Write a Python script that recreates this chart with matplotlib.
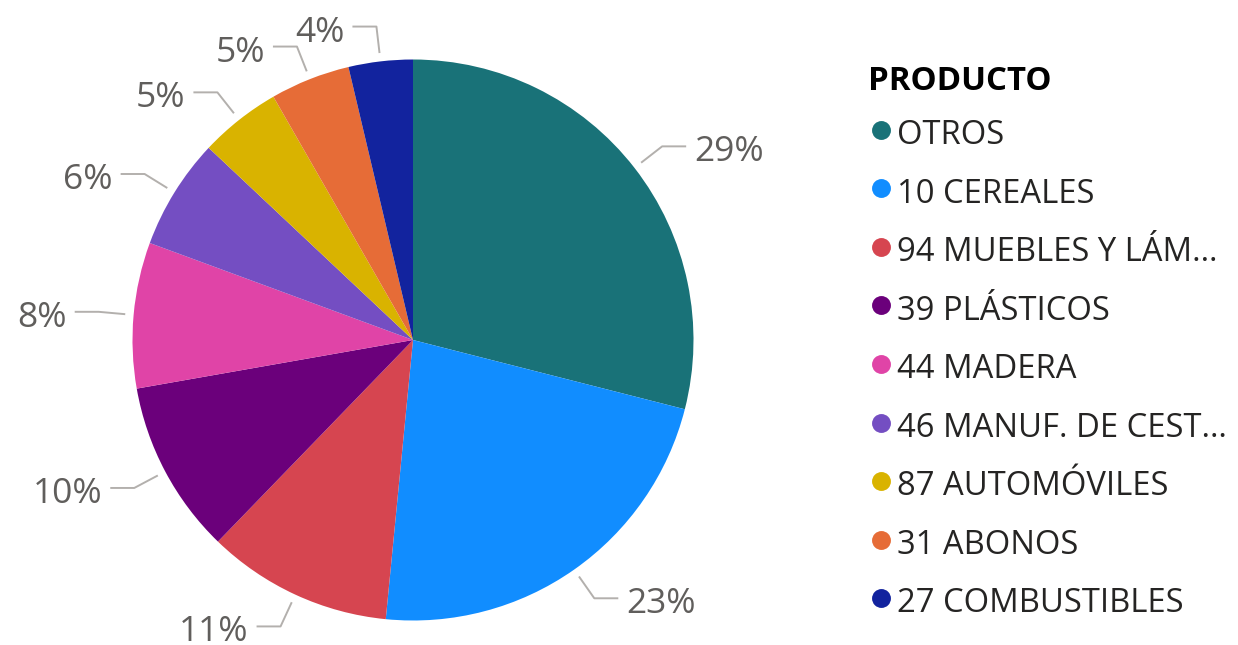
import matplotlib; matplotlib.use("Agg")
import matplotlib.pyplot as plt
import numpy as np

plt.rcParams["font.family"] = ["Open Sans", "DejaVu Sans"]

# ---- data ----
productos = ["OTROS", "10 CEREALES", "94 MUEBLES Y LÁM…", "39 PLÁSTICOS", "44 MADERA",
             "46 MANUF. DE CEST…", "87 AUTOMÓVILES", "31 ABONOS", "27 COMBUSTIBLES"]
valores = [29.0, 22.6, 10.7, 10.0, 8.4, 6.4, 4.7, 4.6, 3.7]
colores = ["#197278", "#118DFF", "#D64550", "#6B007B", "#E044A7",
           "#744EC2", "#D9B300", "#E66C37", "#12239E"]

W, H = 1238, 645
LBL = "#605E5C"; LINE = "#B3B0AD"; INK = "#252423"

fig = plt.figure(figsize=(W/100, H/100), dpi=100)
ax = fig.add_axes([0, 0, 1, 1])
cx, cy, r = 413, H - 340, 280.5
wedges, _ = ax.pie(valores, colors=colores, startangle=90, counterclock=False,
                   center=(cx, cy), radius=r, frame=True,
                   wedgeprops=dict(linewidth=0))
ax.set_xlim(0, W); ax.set_ylim(0, H); ax.set_aspect("auto")
ax.axis("off")

tot = sum(valores)
for w, v in zip(wedges, valores):
    a = np.deg2rad((w.theta1 + w.theta2) / 2)
    dx, dy = np.cos(a), np.sin(a)
    x0, y0 = cx + 1.03*r*dx, cy + 1.03*r*dy
    x1, y1 = cx + 1.125*r*dx, cy + 1.125*r*dy
    s = 1 if dx >= 0 else -1
    x2 = x1 + s*24
    ax.plot([x0, x1, x2], [y0, y1, y1], color=LINE, lw=1.4, solid_capstyle="butt")
    ax.text(x2 + s*8, y1 - 15, f"{round(v/tot*100)}%", fontsize=25.5, color=LBL,
            ha="left" if s > 0 else "right", va="baseline")

# ---- legend ----
ax.text(868, H - 90, "PRODUCTO", fontsize=23.8, fontweight="bold", color="#000000",
        ha="left", va="baseline")
for i, (p, c) in enumerate(zip(productos, colores)):
    base = 144 + 58.56*i
    ax.scatter([881], [H - (base - 14.3)], s=185, color=c, linewidths=0)
    ax.text(897, H - base, p, fontsize=23.6, color=INK, ha="left", va="baseline")

fig.savefig("out.png", dpi=100)
